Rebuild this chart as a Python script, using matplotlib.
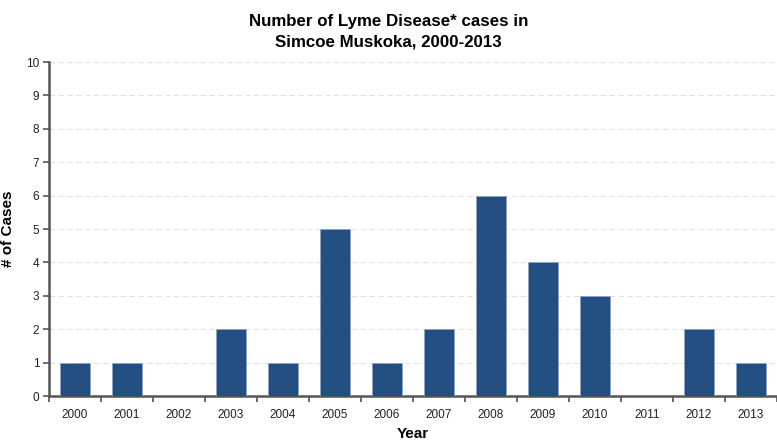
import matplotlib
matplotlib.use("Agg")
import matplotlib.pyplot as plt
import numpy as np

plt.rcParams['font.family'] = ['Liberation Sans', 'DejaVu Sans']

years = ['2000', '2001', '2002', '2003', '2004', '2005', '2006',
         '2007', '2008', '2009', '2010', '2011', '2012', '2013']
cases = [1, 1, 0, 2, 1, 5, 1, 2, 6, 4, 3, 0, 2, 1]
y_ticks = list(range(0, 11))

fig = plt.figure(figsize=(7.77, 4.40), dpi=100)
ax = fig.add_axes([0.063, 0.10, 0.937, 0.759])

x = np.arange(len(years))
ax.bar(x, cases, width=0.57, color='#224E82', edgecolor='#8FA6C4', linewidth=0.6, zorder=3)

ax.set_xlim(-0.5, len(years) - 0.5)
ax.set_ylim(0, 10)
ax.set_yticks(y_ticks)
ax.set_yticklabels([str(v) for v in y_ticks], fontsize=8.5, color='#222222')
ax.set_xticks(x)
ax.set_xticklabels(years, fontsize=8.5, color='#222222')
ax.tick_params(axis='x', length=0, pad=9)
ax.set_xticks(np.arange(-0.5, len(years)), minor=True)
ax.tick_params(axis='x', which='minor', length=4, width=1.2, color='#555555', direction='out')
ax.tick_params(axis='y', length=4, width=1.2, color='#555555', direction='out', pad=3)

ax.grid(axis='y', linestyle=(0, (5, 3)), color='#E2E2E2', linewidth=0.8, zorder=0)
for s in ['top', 'right']:
    ax.spines[s].set_visible(False)
for s in ['left', 'bottom']:
    ax.spines[s].set_color('#555555')
    ax.spines[s].set_linewidth(1.8)

ax.set_ylabel('# of Cases', fontsize=11, fontweight='bold')
ax.yaxis.set_label_coords(-0.047, 0.5)
ax.set_xlabel('Year', fontsize=11, fontweight='bold')
ax.xaxis.set_label_coords(0.5, -0.094)
fig.text(0.5, 0.968, 'Number of Lyme Disease* cases in\nSimcoe Muskoka, 2000-2013',
         ha='center', va='top', fontsize=12.2, fontweight='bold', linespacing=1.45)

fig.savefig('out.png', dpi=100)
